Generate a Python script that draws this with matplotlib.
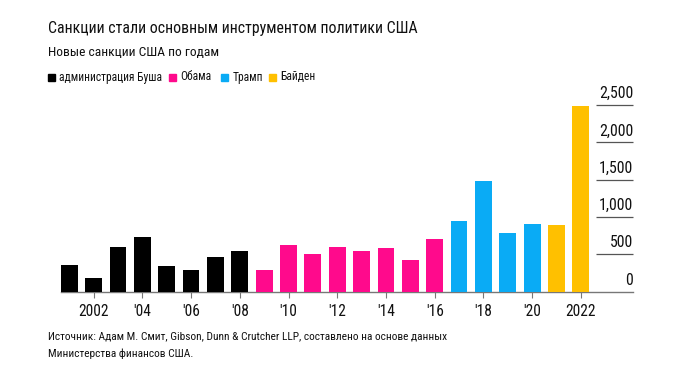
import matplotlib
matplotlib.use('Agg')
import matplotlib.pyplot as plt
from matplotlib.patches import Rectangle

plt.rcParams['font.family'] = ['Roboto Condensed', 'Liberation Sans', 'DejaVu Sans']

# new US sanctions per year
years = list(range(2001, 2023))
values = [362, 183, 598, 728, 339, 290, 464, 540,   # Bush
          290, 625, 500, 598, 549, 589, 424, 701,   # Obama
          946, 1478, 786, 902,                      # Trump
          888, 2480]                                # Biden
admin = ['bush'] * 8 + ['obama'] * 8 + ['trump'] * 4 + ['biden'] * 2

admin_names = ['администрация Буша', 'Обама', 'Трамп', 'Байден']
admin_keys = ['bush', 'obama', 'trump', 'biden']
admin_colors = {'bush': '#000000', 'obama': '#ff0a8c', 'trump': '#0aabf5', 'biden': '#ffc000'}

xticks = list(range(2002, 2023, 2))
xticklabels = ['2002', "'04", "'06", "'08", "'10", "'12", "'14", "'16", "'18", "'20", '2022']
yticks = [0, 500, 1000, 1500, 2000, 2500]
yticklabels = ['0', '500', '1,000', '1,500', '2,000', '2,500']

W, H = 678, 376
fig = plt.figure(figsize=(W / 100, H / 100), dpi=100)
ax = fig.add_axes([61 / W, 1 - 291.7 / H, 572 / W, (291.7 - 105) / H])

ax.bar(years, values, width=0.69, color=[admin_colors[a] for a in admin], zorder=3)
ax.set_xlim(2000.66, 2024.14)
ax.set_ylim(0, 2500)

for s in ['top', 'right', 'left']:
    ax.spines[s].set_visible(False)
ax.spines['bottom'].set_color('#777777')
ax.spines['bottom'].set_linewidth(1.0)
ax.set_yticks([])
ax.set_xticks(xticks)
ax.set_xticklabels(xticklabels, fontsize=11.2, color='#111111')
ax.tick_params(axis='x', length=4, color='#777777', pad=5)

# short gridlines with value labels sitting above them, on the right
ax.hlines(yticks[1:], 0.935, 1.0, transform=ax.get_yaxis_transform(),
          color='#555555', linewidth=0.9, clip_on=False)
for v, lab in zip(yticks, yticklabels):
    ax.annotate(lab, (1.0, v), xycoords=ax.get_yaxis_transform(), xytext=(0, 4),
                textcoords='offset pixels', ha='right', va='bottom',
                fontsize=11.4, color='#111111')

fig.text(47.7 / W, 1 - 29 / H, 'Санкции стали основным инструментом политики США',
         fontsize=11.4, va='center', ha='left', color='#111111')
fig.text(47.7 / W, 1 - 52.3 / H, 'Новые санкции США по годам',
         fontsize=9.7, va='center', ha='left', color='#111111')

# legend row
leg_x = [47.7, 169, 221, 269]
for x, key, name in zip(leg_x, admin_keys, admin_names):
    fig.patches.append(Rectangle((x / W, 1 - 80.5 / H), 7 / W, 7 / H,
                                 transform=fig.transFigure, color=admin_colors[key]))
    fig.text((x + 11.5) / W, 1 - 77 / H, name, fontsize=8.3, va='center', ha='left', color='#111111')

fig.text(47.7 / W, 1 - 336.7 / H,
         'Источник: Адам М. Смит, Gibson, Dunn & Crutcher LLP, составлено на основе данных',
         fontsize=8.2, va='center', ha='left', color='#111111')
fig.text(47.7 / W, 1 - 353.3 / H, 'Министерства финансов США.',
         fontsize=8.2, va='center', ha='left', color='#111111')

fig.savefig('out.png', dpi=100)
